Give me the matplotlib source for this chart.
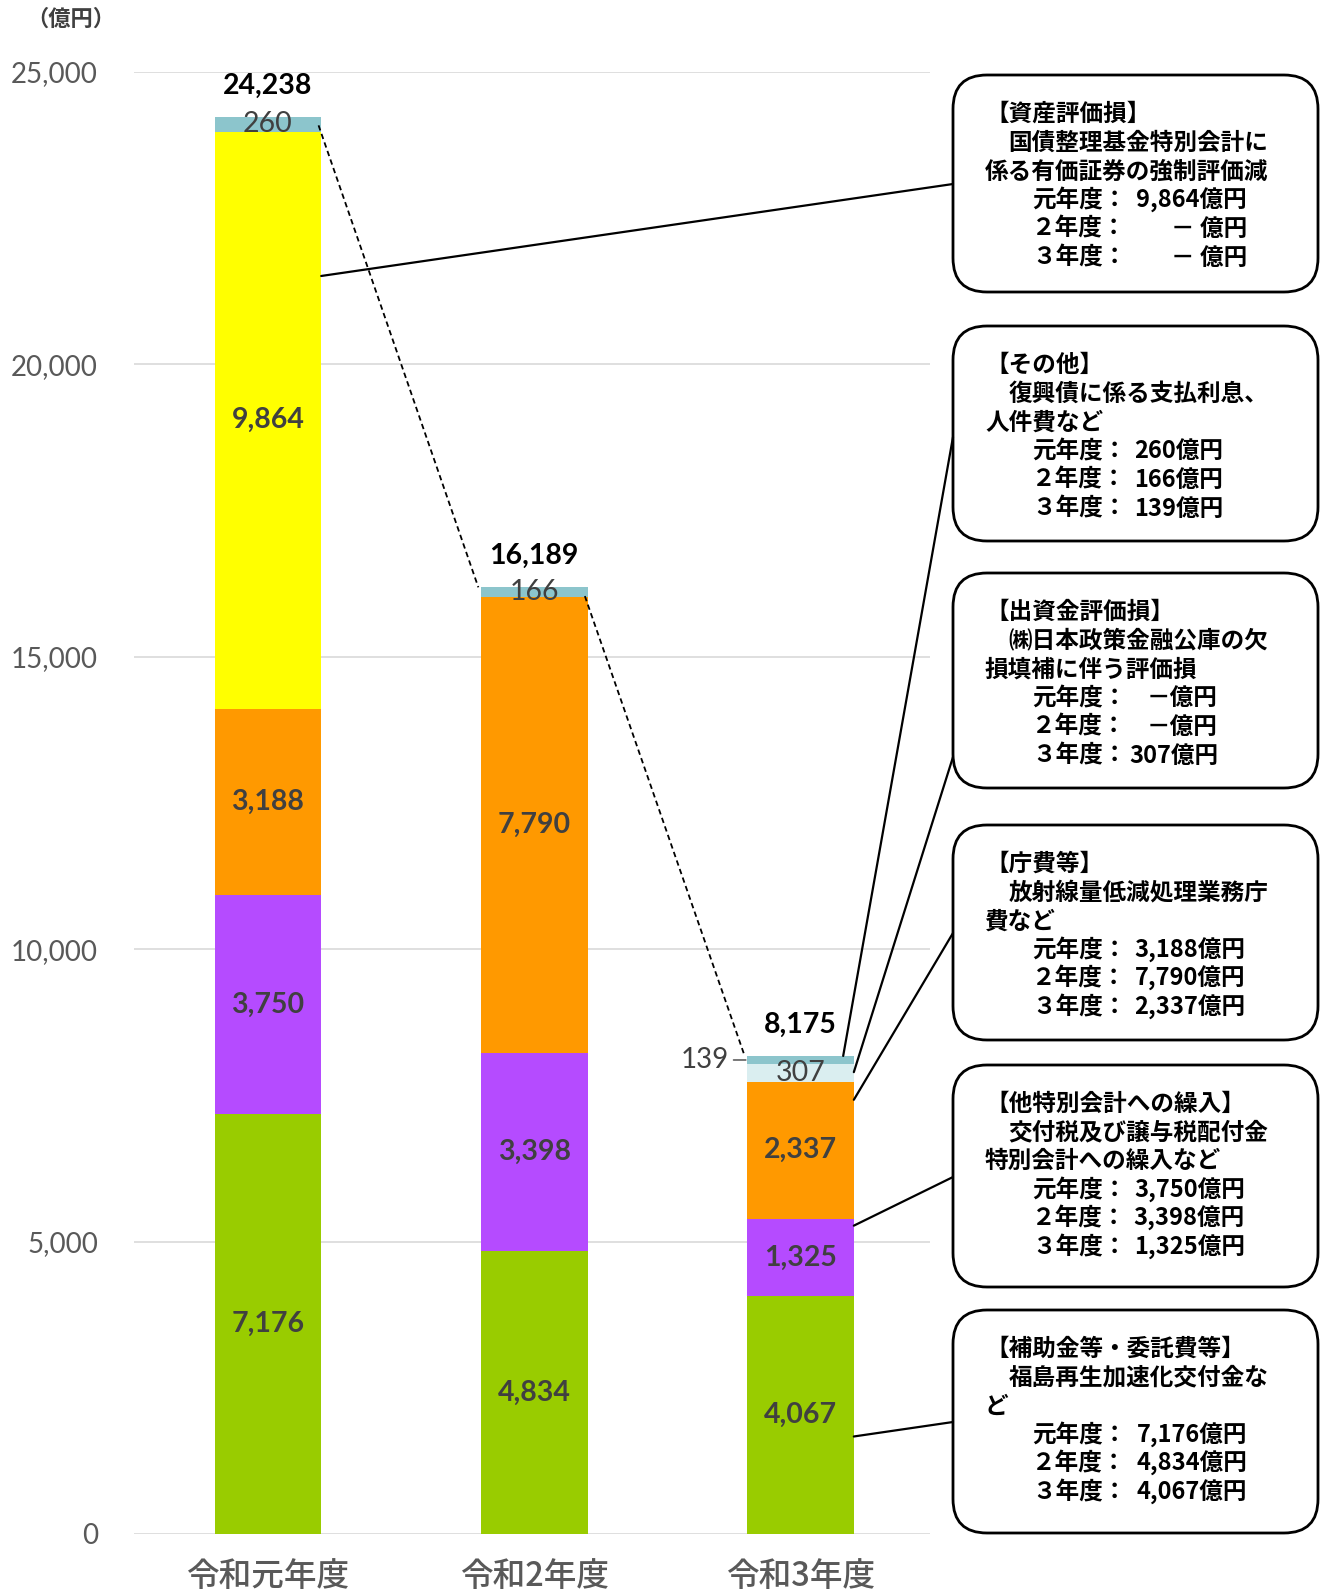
import matplotlib.pyplot as plt
from matplotlib.patches import FancyBboxPatch, ConnectionPatch
import numpy as np

plt.rcParams['font.family'] = ['Lato', 'Noto Sans CJK JP', 'DejaVu Sans']
JP = ['Noto Sans CJK JP', 'DejaVu Sans']

# data (億円)
categories = ['令和元年度', '令和2年度', '令和3年度']
subsidies = [7176, 4834, 4067]      # 補助金等・委託費等
transfers = [3750, 3398, 1325]      # 他特別会計への繰入
office = [3188, 7790, 2337]         # 庁費等
asset_loss = [9864, 0, 0]           # 資産評価損
invest_loss = [0, 0, 307]           # 出資金評価損
other = [260, 166, 139]             # その他
totals = [24238, 16189, 8175]

series = [subsidies, transfers, office, asset_loss, invest_loss, other]
colors = ['#99CC00', '#B54BFF', '#FF9900', '#FFFF00', '#DAEEF0', '#8CC5CC']
bold_label = [True, True, True, True, False, False]

# callout boxes: title, line2, line3, year rows
boxes = [
    ['【資産評価損】', '国債整理基金特別会計に', '係る有価証券の強制評価減',
     ['9,864億円', '－ 億円', '－ 億円']],
    ['【その他】', '復興債に係る支払利息、', '人件費など',
     ['260億円', '166億円', '139億円']],
    ['【出資金評価損】', '㈱日本政策金融公庫の欠', '損填補に伴う評価損',
     ['－億円', '－億円', '307億円']],
    ['【庁費等】', '放射線量低減処理業務庁', '費など',
     ['3,188億円', '7,790億円', '2,337億円']],
    ['【他特別会計への繰入】', '交付税及び譲与税配付金', '特別会計への繰入など',
     ['3,750億円', '3,398億円', '1,325億円']],
    ['【補助金等・委託費等】', '福島再生加速化交付金な', 'ど',
     ['7,176億円', '4,834億円', '4,067億円']],
]
year_names = ['元年度：', '２年度：', '３年度：']
box_tops = [75, 326, 573, 825, 1065, 1310]
box_bottoms = [292, 541, 788, 1040, 1287, 1533]
value_right = [1247, 1223, 1218, 1245, 1245, 1247]
box_anchor_y = [184, 437, 757, 933, 1177, 1422]
# leader targets on bars: (bar index, series index, fraction of segment)
targets = [(0, 3, 0.75), (2, 5, 1.0), (2, 4, 0.55), (2, 2, 0.87), (2, 1, 0.91), (2, 0, 0.41)]

W, H = 1336, 1593
fig = plt.figure(figsize=(W / 100, H / 100), dpi=100)
ax = fig.add_axes([134 / W, (H - 1534) / H, (930 - 134) / W, (1534 - 72) / H])

x = np.arange(len(categories))
width = 0.40
bottom = np.zeros(len(categories))
bottoms = []
for vals, col, bold in zip(series, colors, bold_label):
    vals = np.array(vals, dtype=float)
    ax.bar(x, vals, width, bottom=bottom, color=col, zorder=2)
    bottoms.append(bottom.copy())
    for i, v in enumerate(vals):
        if v <= 0:
            continue
        if col == colors[-1] and i == 2:
            # 139 label outside with a short leader
            yc = bottom[i] + v / 2
            ax.annotate(f'{int(v):,}', xy=(i - width / 2, yc), xytext=(-13, 0),
                        textcoords='offset points', ha='right', va='center',
                        fontsize=20, color='#404040',
                        arrowprops=dict(arrowstyle='-', color='#404040', lw=1,
                                        shrinkA=1, shrinkB=1))
            continue
        ax.text(i, bottom[i] + v / 2, f'{int(v):,}', ha='center', va='center',
                fontsize=20.5, color='#404040',
                fontweight='bold' if bold else 'normal', zorder=3)
    bottom = bottom + vals

stack_top = bottom
for i, t in enumerate(totals):
    ax.annotate(f'{t:,}', xy=(i, stack_top[i]), xytext=(0, 13),
                textcoords='offset points', ha='center', va='bottom',
                fontsize=20.5, fontweight='bold', color='black')

# dashed connectors between bar tops
for i in range(len(categories) - 1):
    ax.plot([i + width / 2 - 0.01, i + 1 - width / 2 - 0.01],
            [stack_top[i] - 150, stack_top[i + 1]],
            ls=(0, (3, 2)), color='black', lw=1.3, zorder=4, clip_on=False)

ax.set_xlim(-0.503, 2.486)
ax.set_ylim(0, 25000)
ax.set_yticks(range(0, 25001, 5000))
ax.set_yticklabels([f'{v:,}' for v in range(0, 25001, 5000)])
ax.set_xticks(x)
ax.set_xticklabels(categories)
for lab in ax.get_xticklabels():
    lab.set_fontfamily(JP)
    lab.set_fontweight('medium')
ax.tick_params(axis='x', length=0, pad=18, labelsize=23.5, labelcolor='#595959')
ax.tick_params(axis='y', length=0, pad=26, labelsize=20, labelcolor='#595959')
ax.yaxis.grid(True, color='#D9D9D9', lw=1.2)
ax.set_axisbelow(True)
for s in ax.spines.values():
    s.set_visible(False)

# overlay in pixel coordinates for the callouts
ov = fig.add_axes([0, 0, 1, 1], zorder=3)
ov.set_xlim(0, W)
ov.set_ylim(H, 0)
ov.axis('off')
ov.patch.set_visible(False)

ov.text(71, 19, '（億円）', ha='center', va='center', fontsize=16,
        fontweight='bold', color='#404040', family=JP)

bx0, bx1 = 953, 1318
tx0 = 985
em = 23.6
step = 28.7
for k, (title, l2, l3, vals) in enumerate(boxes):
    top, bot = box_tops[k], box_bottoms[k]
    ov.add_patch(FancyBboxPatch((bx0, top), bx1 - bx0, bot - top,
                                boxstyle='round,pad=0,rounding_size=34',
                                fc='white', ec='black', lw=2))
    y0 = top + 39
    kw = dict(fontsize=17, fontweight='bold', color='black', va='center', family=JP)
    ov.text(tx0, y0, title, ha='left', **kw)
    ov.text(tx0 + em, y0 + step, l2, ha='left', **kw)
    ov.text(tx0, y0 + 2 * step, l3, ha='left', **kw)
    for j in range(3):
        yy = y0 + (3 + j) * step
        ov.text(tx0 + 2 * em, yy, year_names[j], ha='left', **kw)
        ov.text(value_right[k], yy, vals[j], ha='right', **kw)

    bi, si, frac = targets[k]
    yv = bottoms[si][bi] + series[si][bi] * frac
    con = ConnectionPatch(xyA=(bx0, box_anchor_y[k]), coordsA=ov.transData,
                          xyB=(bi + width / 2 - (0.04 if si == 5 else 0), yv),
                          coordsB=ax.transData, color='black', lw=1.6, zorder=5)
    fig.add_artist(con)

fig.savefig('out.png', dpi=100)
